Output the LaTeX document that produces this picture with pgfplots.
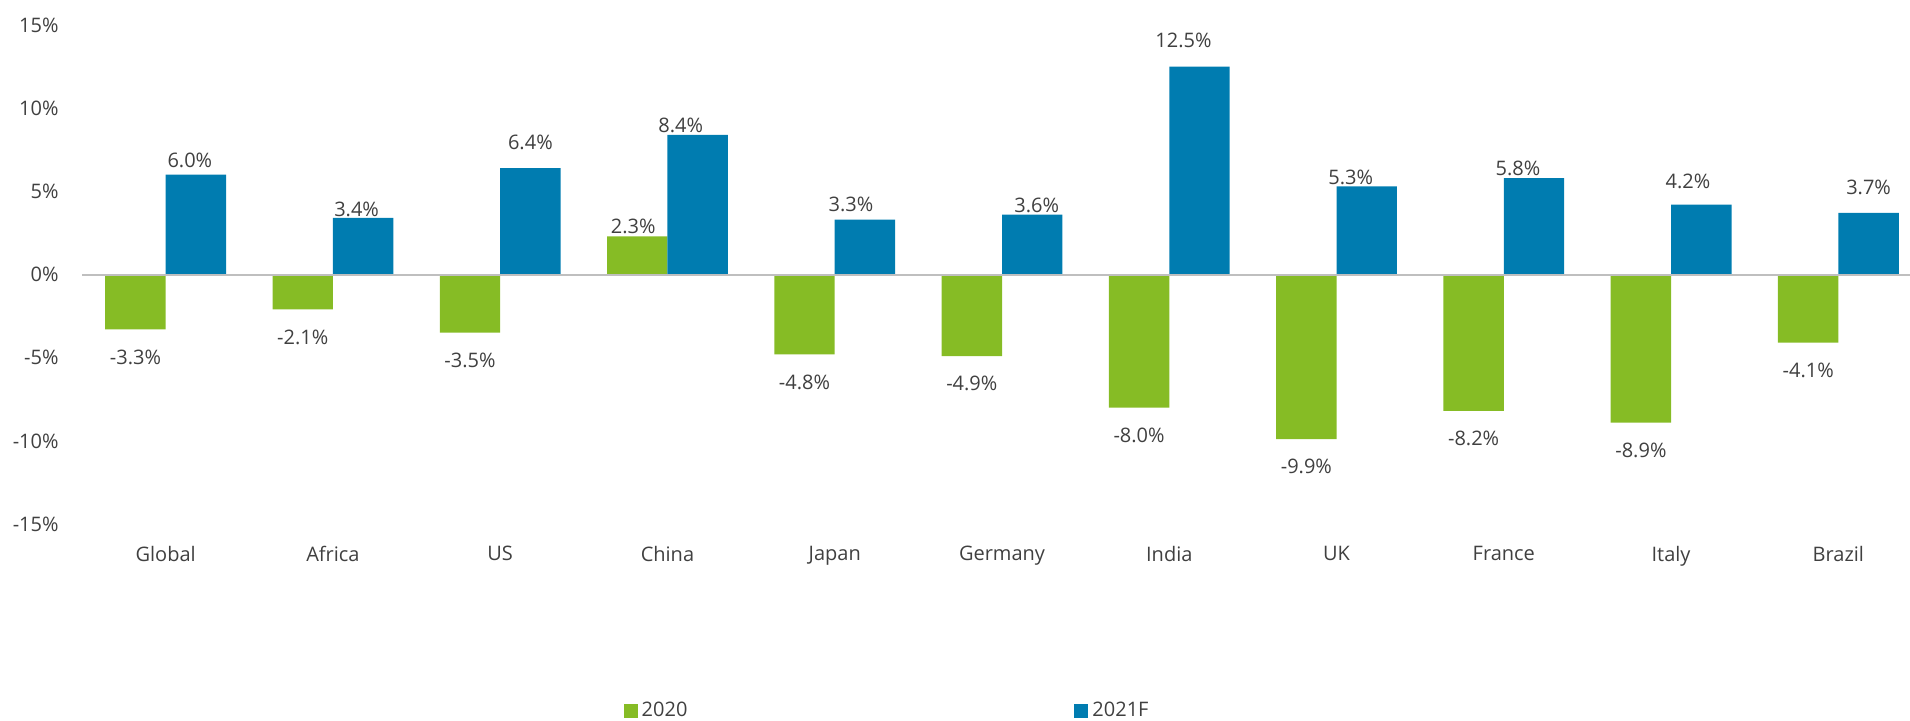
\documentclass[border=0pt]{standalone}
\usepackage{pgfplots}
\pgfplotsset{compat=1.18}
\usepackage{fontspec}
\setmainfont{Open Sans}
\definecolor{dgreen}{HTML}{86BC25}
\definecolor{dblue}{HTML}{007CB0}
\definecolor{txt}{HTML}{404040}
\definecolor{zline}{HTML}{BFBFBF}
\begin{document}
\begin{tikzpicture}[font=\fontsize{10}{12}\selectfont, text=txt]
\path[use as bounding box] (-41pt,-98pt) rectangle (914pt,262pt);
\begin{axis}[
  at={(0,0)}, anchor=south west, scale only axis,
  width=920pt, height=249.5pt,
  xmin=-0.5, xmax=10.5, ymin=-15, ymax=15,
  ybar=0pt, bar width=30.2pt,
  xtick={0,...,10},
  xticklabels={Global,Africa,US,China,Japan,Germany,India,UK,France,Italy,Brazil},
  ytick={-15,-10,-5,0,5,10,15},
  yticklabels={-15\%,-10\%,-5\%,0\%,5\%,10\%,15\%},
  axis line style={draw=none}, major tick length=0pt,
  yticklabel style={xshift=-8.2pt},
  xticklabel style={anchor=north, yshift=-7.5pt},
  clip=false,
  nodes near coords={\pgfplotspointmeta\%},
  point meta=explicit symbolic,
  visualization depends on={rawy \as \rawy},
  visualization depends on={value \thisrow{dx} \as \dx},
  visualization depends on={value \thisrow{dy} \as \dy},
  every node near coord/.append style={anchor=south,
    xshift={\dx}, yshift={(\rawy<0)*(-21)+\dy}, text=txt},
  legend columns=2,
  legend style={at={(0.2942,-0.3747)}, anchor=west, draw=none, fill=none,
    inner sep=0pt, column sep=0pt,
    /tikz/every even column/.append style={column sep=191.5pt}},
]
\addplot[fill=dgreen, draw=none,
  legend image code/.code={\fill[dgreen] (0pt,-3.5pt) rectangle (7pt,3.5pt);}]
  table[x=x, y=y, meta=m] {
x y m dx dy
0 -3.3 -3.3 0 0
1 -2.1 -2.1 0 0
2 -3.5 -3.5 0 0
3 2.3 2.3 -2 -2.5
4 -4.8 -4.8 0 0
5 -4.9 -4.9 0 0
6 -8.0 -8.0 0 0
7 -9.9 -9.9 0 0
8 -8.2 -8.2 0 0
9 -8.9 -8.9 0 0
10 -4.1 -4.1 0 0
};
\addlegendentry{2020}
\addplot[fill=dblue, draw=none,
  legend image code/.code={\fill[dblue] (0pt,-3.5pt) rectangle (7pt,3.5pt);}]
  table[x=x, y=y, meta=m] {
x y m dx dy
0 6.0 6.0 -3 0
1 3.4 3.4 -3.25 -2.8
2 6.4 6.4 0 5.5
3 8.4 8.4 -8.5 -2.5
4 3.3 3.3 -7 0.5
5 3.6 3.6 2.3 -2.8
6 12.5 12.5 -8 6.1
7 5.3 5.3 -8 -2.5
8 5.8 5.8 -8 -2.3
9 4.2 4.2 -6.7 4.2
10 3.7 3.7 0 5.6
};
\addlegendentry{2021F}
\draw[zline, line width=1pt] (axis cs:-0.5,0) -- (axis cs:10.5,0);
\end{axis}
\end{tikzpicture}
\end{document}
